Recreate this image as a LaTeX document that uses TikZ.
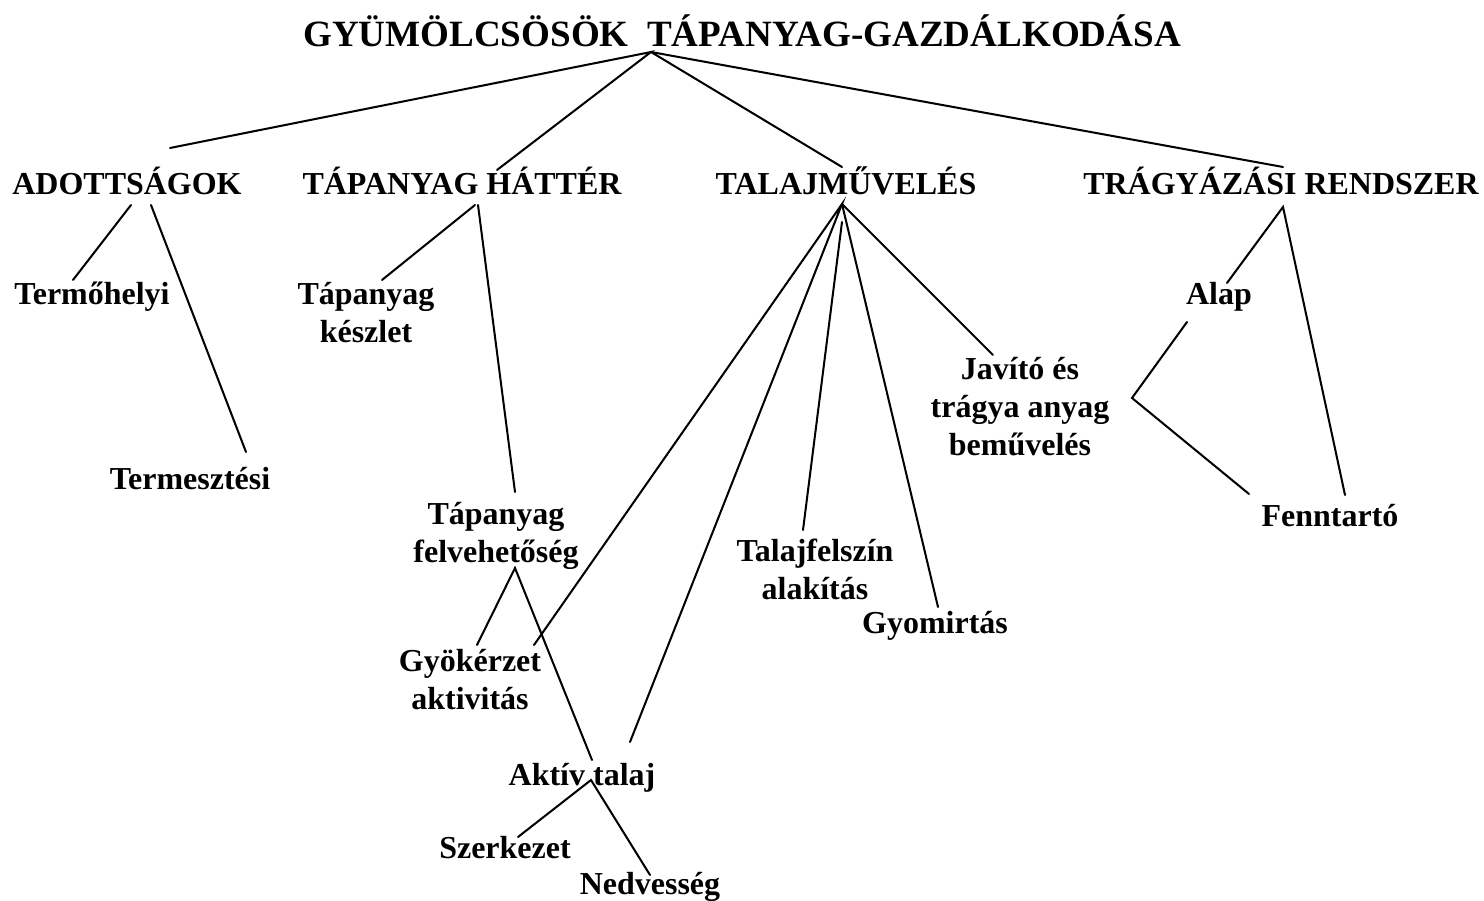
\documentclass[tikz,border=0pt]{standalone}
\usepackage{fontspec}
\newfontfamily\timesbold{Liberation Serif}[UprightFont={* Bold}]
\begin{document}
\begin{tikzpicture}[x=0.2mm,y=-0.2mm,
  lbl/.style={font=\timesbold\fontsize{18.2}{21.6}\selectfont,inner sep=0pt,outer sep=0pt,align=center},
  ttl/.style={font=\timesbold\fontsize{21.1}{25}\selectfont,inner sep=0pt,outer sep=0pt},
  conn/.style={line width=1.15pt,line cap=round}]
\useasboundingbox[fill=white] (0,0) rectangle (1484,901);
% labels
\node[ttl,anchor=base] (title) at (742,47) {GYÜMÖLCSÖSÖK\ \ TÁPANYAG-GAZDÁLKODÁSA};
\node[lbl,anchor=base] (adott) at (127,195) {ADOTTSÁGOK};
\node[lbl,anchor=base] (hatter) at (462,195) {TÁPANYAG HÁTTÉR};
\node[lbl,anchor=base] (talaj) at (846,195) {TALAJMŰVELÉS};
\node[lbl,anchor=base] (tragy) at (1281,195) {TRÁGYÁZÁSI RENDSZER};
\node[lbl,anchor=base] (termo) at (92,305) {Termőhelyi};
\node[lbl,anchor=base] (termesz) at (190,490) {Termesztési};
\node[lbl,anchor=north] (keszlet) at (366,282.6) {Tápanyag\\készlet};
\node[lbl,anchor=north] (felvet) at (496,502.6) {Tápanyag\\felvehetőség};
\node[lbl,anchor=north] (gyoker) at (470,649.6) {Gyökérzet\\aktivitás};
\node[lbl,anchor=base] (aktiv) at (582,785) {Aktív talaj};
\node[lbl,anchor=base] (szerk) at (505,858) {Szerkezet};
\node[lbl,anchor=base] (nedv) at (650,894) {Nedvesség};
\node[lbl,anchor=north] (felszin) at (815,538.6) {Talajfelszín\\alakítás};
\node[lbl,anchor=base] (gyom) at (935,634) {Gyomirtás};
\node[lbl,anchor=north] (javito) at (1020,357.6) {Javító és\\trágya anyag\\beművelés};
\node[lbl,anchor=base] (alap) at (1219,305) {Alap};
\node[lbl,anchor=base] (fenn) at (1330,527) {Fenntartó};
% connector end points
\coordinate (root) at (651,52);
\coordinate (r1) at (170,148);
\coordinate (r2) at (497,170);
\coordinate (r3) at (842,167);
\coordinate (r4) at (1283,167);
\coordinate (ad1) at (131,205);
\coordinate (ad2) at (151,205);
\coordinate (t1) at (73,280);
\coordinate (t2) at (246,452);
\coordinate (h1) at (475,205);
\coordinate (h2) at (478,205);
\coordinate (k1) at (382,280);
\coordinate (f1) at (515,492);
\coordinate (fa) at (515,568);
\coordinate (g1) at (477,645);
\coordinate (a1) at (592,760);
\coordinate (ta) at (842,204);
\coordinate (ta2) at (842,222);
\coordinate (g2) at (534,645);
\coordinate (a2) at (630,742);
\coordinate (fs) at (803,530);
\coordinate (gy) at (938,607);
\coordinate (jv) at (993,355);
\coordinate (aa) at (591,780);
\coordinate (sz) at (518,837);
\coordinate (nd) at (650,875);
\coordinate (tr) at (1283,207);
\coordinate (al) at (1227,283);
\coordinate (fe1) at (1345,495);
\coordinate (b0) at (1187,322);
\coordinate (bv) at (1132,398);
\coordinate (fe2) at (1249,494);
% connectors
\draw[conn] (r1) -- (root) -- (r2);
\draw[conn] (root) -- (r3);
\draw[conn] (root) -- (r4);
\draw[conn] (t1) -- (ad1);
\draw[conn] (ad2) -- (t2);
\draw[conn] (k1) -- (h1);
\draw[conn] (h2) -- (f1);
\draw[conn] (g1) -- (fa) -- (a1);
\draw[conn] (g2) -- (ta) -- (a2);
\draw[conn] (ta2) -- (fs);
\draw[conn] (ta) -- (gy);
\draw[conn] (ta) -- (jv);
\draw[conn] (sz) -- (aa) -- (nd);
\draw[conn] (al) -- (tr) -- (fe1);
\draw[conn] (b0) -- (bv) -- (fe2);
\end{tikzpicture}
\end{document}
